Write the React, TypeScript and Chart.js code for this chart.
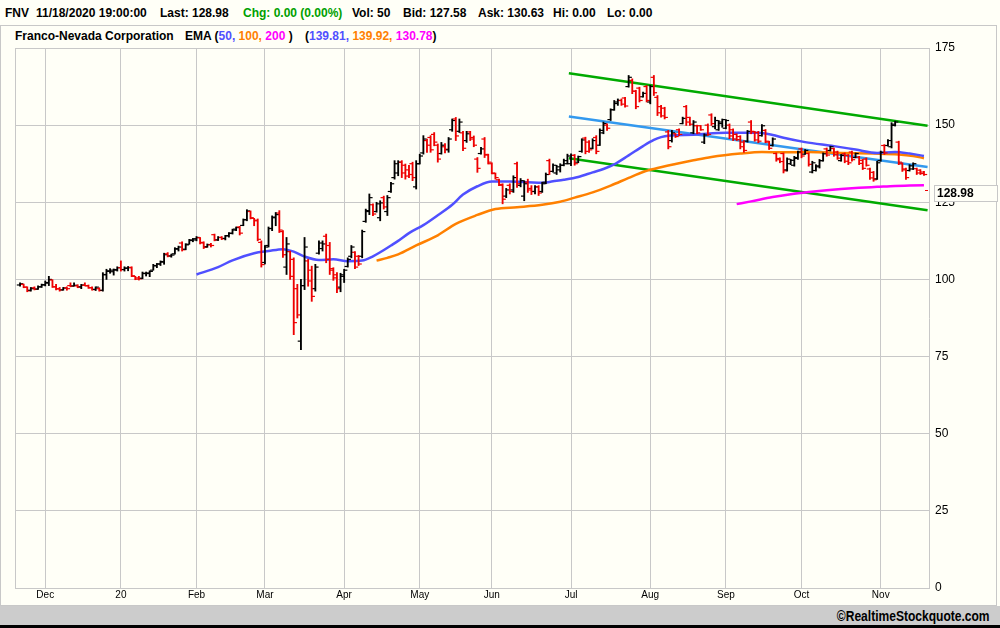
import { useEffect, useRef } from "react"
import { Chart, registerables } from "chart.js"

Chart.register(...registerables)

// daily bars, [open, high, low, close]
const nov19 = [
  [98.2, 98.9, 97.8, 98.6], [98.4, 98.5, 97.3, 97.5], [97.5, 97.6, 96.0, 96.3], [96.5, 97.4, 96.2, 97.0],
  [97.3, 97.6, 96.6, 96.8], [96.9, 97.9, 96.8, 97.6], [97.6, 98.5, 97.4, 98.3],
]
const dec19 = [
  [98.2, 99.5, 97.9, 99.0], [98.8, 101.0, 98.0, 100.0], [99.8, 99.9, 97.4, 97.6], [97.6, 98.4, 96.6, 97.0],
  [96.9, 97.4, 96.2, 96.6], [96.6, 97.4, 96.5, 97.2], [97.3, 97.6, 96.5, 97.0], [98.0, 98.9, 97.6, 97.8],
  [97.9, 98.9, 97.8, 98.1], [97.9, 98.3, 97.3, 97.5], [97.6, 98.4, 97.0, 98.2], [98.1, 98.9, 97.9, 98.0],
  [97.9, 98.2, 97.1, 97.3], [97.3, 97.6, 96.5, 96.7], [96.8, 97.6, 96.4, 97.5], [97.0, 97.3, 96.2, 96.4],
  [96.5, 102.2, 96.2, 101.5], [101.6, 103.3, 100.0, 102.8], [102.6, 103.5, 102.0, 103.0], [102.5, 103.4, 101.4, 103.2],
  [103.0, 104.1, 102.7, 103.8],
]
const jan20 = [
  [103.8, 106.0, 102.7, 103.2], [103.2, 104.1, 102.7, 103.7], [103.6, 104.2, 102.8, 103.8], [103.9, 104.1, 100.9, 101.2],
  [101.0, 101.0, 99.9, 100.1], [100.5, 101.0, 99.8, 100.2], [100.4, 102.4, 100.2, 102.0], [101.9, 102.4, 101.1, 102.1],
  [101.9, 102.8, 100.9, 102.6], [103.0, 104.9, 103.0, 104.5], [104.4, 105.2, 103.8, 105.0], [105.0, 106.0, 104.5, 105.8],
  [105.6, 108.5, 104.9, 108.0], [108.3, 108.7, 107.3, 107.6], [107.6, 108.2, 107.2, 107.9], [108.3, 110.3, 108.2, 110.0],
  [109.8, 110.8, 109.2, 110.5], [111.8, 112.2, 109.2, 109.6], [109.8, 111.6, 109.6, 111.2], [111.4, 113.0, 111.4, 112.8],
  [112.6, 113.3, 112.2, 112.8],
]
const feb20 = [
  [113.2, 113.9, 112.5, 113.6], [113.5, 113.6, 111.5, 111.8], [112.0, 112.2, 110.0, 110.4], [110.6, 111.5, 110.4, 111.3],
  [111.2, 111.7, 110.5, 111.0], [114.5, 114.7, 112.5, 112.8], [112.8, 113.9, 112.6, 113.6], [113.6, 113.9, 112.9, 113.2],
  [113.3, 114.3, 112.8, 114.1], [114.2, 115.2, 113.7, 114.9], [115.0, 116.3, 114.7, 116.0], [116.3, 117.0, 115.8, 116.8],
  [117.0, 117.2, 114.4, 115.0], [117.5, 119.6, 117.4, 119.3], [119.4, 122.6, 119.0, 122.2], [122.0, 122.2, 119.6, 120.0],
  [119.8, 119.8, 117.4, 119.2], [119.0, 119.6, 112.5, 113.0], [112.0, 112.5, 104.0, 104.8],
]
const mar20 = [
  [105.5, 111.0, 105.0, 110.5], [111.0, 117.0, 110.5, 116.5], [116.5, 120.6, 115.8, 120.0], [120.2, 121.7, 117.4, 121.0],
  [121.5, 122.3, 115.2, 116.0], [115.5, 115.8, 107.1, 108.0], [104.0, 113.6, 101.6, 111.5], [109.0, 109.2, 100.0, 101.0],
  [106.5, 107.0, 82.1, 86.0], [97.0, 98.4, 87.5, 88.5], [80.0, 100.0, 77.2, 98.0], [98.0, 113.6, 96.7, 110.5],
  [106.0, 106.5, 97.8, 99.5], [103.0, 104.3, 92.9, 94.5], [97.0, 104.9, 96.2, 104.0], [108.5, 112.5, 108.2, 111.8],
  [110.0, 112.5, 109.2, 111.5], [114.0, 114.7, 105.4, 106.5], [111.0, 112.0, 101.6, 103.0], [103.5, 103.8, 99.7, 100.5],
  [101.5, 102.2, 95.7, 97.0], [97.5, 102.0, 96.0, 101.5],
]
const apr20 = [
  [101.0, 103.3, 99.0, 103.0], [104.2, 107.0, 104.0, 106.5], [107.5, 111.0, 107.0, 110.5], [108.8, 109.0, 103.5, 104.0],
  [107.5, 107.8, 104.5, 105.0], [107.5, 116.0, 107.0, 115.5], [118.8, 122.8, 118.5, 122.3], [122.0, 127.7, 121.0, 126.5],
  [124.2, 124.5, 120.7, 121.2], [122.0, 125.0, 121.8, 124.5], [120.0, 125.5, 119.0, 124.8], [126.5, 127.0, 122.8, 123.5],
  [122.0, 127.2, 120.7, 126.5], [128.5, 131.5, 128.2, 131.0], [133.0, 138.5, 132.5, 137.5], [134.5, 138.5, 133.6, 138.0],
  [138.0, 138.5, 133.0, 134.5], [137.0, 137.4, 132.5, 133.5], [135.5, 137.0, 133.0, 134.0], [137.5, 138.0, 132.0, 133.0],
  [130.0, 138.5, 129.3, 137.5],
]
const may20 = [
  [137.5, 140.6, 137.4, 140.0], [141.0, 146.6, 140.6, 145.5], [145.0, 145.5, 141.2, 143.5], [146.0, 146.6, 141.2, 142.0],
  [147.0, 147.6, 143.3, 144.5], [143.5, 143.9, 138.0, 139.0], [140.8, 144.4, 140.6, 143.5], [143.0, 144.0, 141.0, 142.2],
  [142.0, 146.0, 141.2, 145.5], [148.5, 152.0, 148.0, 151.5], [152.0, 152.5, 145.0, 146.5], [148.0, 152.0, 147.6, 151.0],
  [147.5, 148.0, 141.7, 142.5], [145.0, 148.0, 144.4, 147.2], [147.8, 148.0, 145.0, 145.5], [146.0, 146.5, 143.0, 143.5],
  [139.0, 139.5, 134.7, 136.0], [140.8, 142.8, 140.6, 142.3], [145.5, 146.0, 139.5, 140.5], [140.3, 140.6, 137.4, 138.0],
]
const jun20 = [
  [137.5, 137.8, 134.2, 134.5], [134.3, 134.5, 132.5, 133.0], [132.3, 132.5, 130.4, 130.8], [130.5, 131.0, 124.5, 126.0],
  [127.0, 129.5, 126.5, 129.0], [130.5, 131.0, 127.7, 128.5], [129.0, 133.6, 128.2, 133.0], [137.5, 138.0, 129.8, 131.0],
  [130.5, 132.7, 130.0, 132.0], [127.0, 132.0, 125.5, 131.0], [131.5, 132.5, 128.2, 129.0], [129.5, 130.4, 127.5, 128.5],
  [128.5, 130.4, 127.7, 130.0], [130.0, 130.4, 127.2, 128.0], [128.5, 131.5, 128.2, 131.0], [131.5, 134.5, 131.0, 134.0],
  [138.5, 139.0, 134.0, 135.0], [135.0, 137.5, 134.8, 137.0], [134.5, 137.0, 134.0, 136.5], [135.5, 137.5, 134.8, 137.0],
  [137.0, 139.0, 136.8, 138.5], [137.5, 140.6, 137.4, 140.0],
]
const jul20 = [
  [137.5, 140.7, 136.9, 140.2], [140.2, 140.5, 137.0, 137.5], [138.0, 140.0, 137.8, 139.8], [141.5, 145.6, 141.2, 145.2],
  [145.8, 146.1, 140.7, 141.5], [144.5, 145.0, 141.2, 142.0], [142.5, 145.6, 142.3, 145.0], [146.0, 146.6, 140.7, 141.5],
  [143.5, 148.8, 143.4, 148.3], [147.5, 151.0, 147.2, 150.5], [150.0, 150.4, 148.3, 149.0], [151.8, 155.3, 151.5, 155.0],
  [155.0, 158.0, 154.8, 157.5], [157.0, 158.5, 156.4, 158.0], [158.0, 158.5, 156.4, 156.8], [158.8, 159.0, 155.8, 156.2],
  [162.5, 166.1, 162.3, 165.5], [164.5, 165.0, 160.2, 161.0], [161.0, 161.3, 155.3, 156.0], [162.0, 162.3, 157.5, 158.0],
  [159.2, 160.7, 159.1, 160.3], [162.5, 162.9, 157.5, 158.0],
]
const aug20 = [
  [157.5, 162.9, 156.9, 162.5], [165.5, 166.1, 159.6, 160.5], [159.0, 159.6, 153.1, 154.0], [156.0, 156.4, 152.6, 153.0],
  [155.5, 155.8, 152.0, 152.5], [147.8, 148.3, 142.3, 143.0], [145.0, 148.3, 144.5, 147.5], [147.2, 147.3, 146.0, 146.3],
  [148.5, 148.8, 146.6, 147.0], [150.5, 152.6, 150.4, 152.2], [156.0, 156.4, 149.9, 151.0], [152.5, 152.6, 149.9, 150.3],
  [147.5, 151.5, 147.2, 151.0], [149.8, 150.0, 147.2, 147.5], [149.8, 149.9, 148.3, 148.5], [144.5, 147.2, 144.0, 146.8],
  [150.0, 150.4, 146.6, 147.0], [153.3, 153.7, 149.9, 150.5], [149.5, 152.6, 148.8, 151.5], [148.5, 151.5, 148.3, 151.0],
  [150.5, 152.0, 149.3, 151.8],
]
const sep20 = [
  [149.0, 151.8, 148.8, 151.5], [150.0, 150.4, 145.6, 146.5], [148.5, 148.8, 145.0, 145.5], [147.0, 147.2, 145.0, 145.3],
  [146.3, 146.6, 142.3, 143.0], [144.5, 145.0, 141.2, 141.8], [144.8, 148.3, 144.5, 148.0], [151.0, 151.5, 147.2, 148.0],
  [147.8, 148.0, 144.8, 145.2], [147.6, 148.0, 144.3, 144.8], [146.6, 150.2, 146.4, 149.8], [148.3, 148.6, 144.3, 144.8],
  [144.5, 144.8, 142.1, 142.5], [143.4, 145.9, 143.2, 145.5], [140.8, 141.0, 138.3, 138.8], [139.2, 139.4, 137.8, 138.2],
  [140.8, 141.0, 134.5, 135.2], [135.5, 139.4, 135.1, 139.0], [137.5, 138.9, 137.2, 138.6], [137.0, 139.9, 136.7, 139.5],
  [139.2, 141.6, 138.9, 141.3],
]
const oct20 = [
  [142.3, 142.6, 139.4, 140.0], [140.6, 142.1, 140.5, 141.8], [140.8, 141.0, 136.7, 137.3], [134.8, 138.3, 134.5, 137.8],
  [135.3, 137.2, 135.1, 136.8], [136.5, 138.9, 136.1, 138.5], [138.5, 141.0, 138.3, 140.7], [142.3, 142.6, 139.9, 140.3],
  [141.8, 143.2, 141.6, 143.0], [142.4, 142.6, 139.9, 140.4], [141.3, 141.6, 138.9, 139.3], [138.5, 140.5, 138.3, 140.2],
  [140.7, 141.0, 137.8, 138.3], [140.2, 140.5, 137.2, 137.8], [141.3, 141.6, 138.3, 138.8], [139.5, 141.0, 139.4, 140.8],
  [139.6, 139.9, 137.2, 137.6], [138.6, 138.9, 135.6, 136.0], [139.0, 139.4, 136.7, 137.0], [135.8, 136.1, 132.4, 132.9],
  [134.7, 135.0, 131.8, 132.3], [132.6, 138.3, 132.4, 137.8],
]
const nov20 = [
  [138.5, 141.6, 138.3, 141.2], [143.4, 143.7, 140.5, 141.0], [143.4, 145.3, 143.2, 145.0], [143.0, 150.8, 142.6, 150.3],
  [149.9, 151.3, 149.7, 151.0], [144.5, 144.8, 137.2, 138.0], [137.5, 137.8, 135.0, 135.5], [135.8, 136.1, 132.4, 133.0],
  [135.3, 137.2, 135.1, 136.8], [135.8, 137.8, 135.6, 137.5], [135.9, 136.1, 134.0, 134.5], [135.4, 135.6, 134.0, 134.3],
  [134.8, 135.0, 133.7, 134.0],
]

const bars = [
  ...nov19, ...dec19, ...jan20, ...feb20, ...mar20, ...apr20,
  ...may20, ...jun20, ...jul20, ...aug20, ...sep20, ...oct20, ...nov20,
]

// first trading day of each month (bar index) and its label
const monthStarts = [7, 28, 49, 68, 90, 111, 131, 153, 175, 196, 217, 239]
const monthLabels = ["Dec", "20", "Feb", "Mar", "Apr", "May", "Jun", "Jul", "Aug", "Sep", "Oct", "Nov"]

// moving averages, [bar index, value]
const ema50 = [
  [49, 101.6], [55, 104.0], [59, 106.2], [65, 108.5], [69, 109.2], [73, 109.8], [76, 109.0], [79, 107.4],
  [83, 106.3], [87, 106.5], [91, 105.9], [95, 106.1], [98, 107.5], [100, 108.8], [103, 111.0], [105, 112.5],
  [108, 115.0], [112, 117.6], [116, 120.8], [120, 124.2], [123, 127.5], [127, 130.2], [131, 131.7], [136, 131.7],
  [141, 131.5], [145, 131.3], [148, 131.8], [151, 132.3], [155, 133.2], [159, 134.7], [162, 135.8], [165, 137.3],
  [169, 140.2], [173, 143.2], [176, 145.2], [178, 146.1], [180, 146.6], [187, 146.9], [196, 147.5], [205, 147.5],
  [209, 146.8], [212, 145.9], [218, 144.5], [226, 143.2], [232, 142.1], [238, 141.0], [243, 141.3], [247, 140.8],
  [251, 140.0],
]
const ema100 = [
  [99, 106.1], [102, 107.0], [105, 108.1], [110, 111.0], [116, 114.3], [121, 118.0], [127, 120.9], [132, 122.8],
  [138, 123.4], [145, 124.2], [150, 125.2], [154, 126.5], [159, 128.2], [164, 130.4], [169, 132.9], [173, 134.8],
  [176, 135.8], [182, 137.4], [187, 138.6], [192, 139.7], [200, 140.8], [206, 141.3], [212, 141.2], [219, 141.3],
  [228, 141.0], [237, 140.8], [244, 140.5], [248, 140.0], [251, 139.3],
]
const ema200 = [
  [199, 124.4], [203, 125.3], [209, 126.7], [214, 127.6], [219, 128.3], [224, 128.9], [228, 129.3], [233, 129.7],
  [238, 130.0], [243, 130.3], [247, 130.4], [251, 130.5],
]

// trend channel, [bar index, value]
const channelUpper = [[152.4, 166.8], [252, 149.8]]
const channelMid = [[152.4, 152.8], [252, 136.4]]
const channelLower = [[152.4, 139.3], [252, 122.4]]

const lastPrice = 128.98

const BG = "#fffff7"
const GRID = "#c8c8c8"
const UP = "#000000"
const DOWN = "#ee0000"
const FONT = "'Liberation Sans', Arial, sans-serif"

const pts = (arr: number[][]) => arr.map(([x, y]) => ({ x, y }))

const lastPricePlugin = {
  id: "lastPrice",
  afterDraw(chart: any) {
    const { ctx, chartArea, scales } = chart
    const py = Math.round(scales.y.getPixelForValue(lastPrice))
    ctx.save()
    ctx.strokeStyle = DOWN
    ctx.lineWidth = 1
    ctx.beginPath()
    ctx.moveTo(chartArea.right - 4, py + 0.5)
    ctx.lineTo(chartArea.right - 1, py + 0.5)
    ctx.stroke()
    const bx = Math.round(chartArea.right) + 5
    const by = py - 5
    ctx.fillStyle = BG
    ctx.fillRect(bx, by, 64, 17)
    ctx.strokeStyle = GRID
    ctx.strokeRect(bx + 0.5, by + 0.5, 63, 16)
    ctx.fillStyle = "#000"
    ctx.font = `bold 12px ${FONT}`
    ctx.textBaseline = "middle"
    ctx.fillText(lastPrice.toFixed(2), bx + 3, by + 9)
    ctx.restore()
  },
}

function PriceChart() {
  const chartRef = useRef<HTMLCanvasElement>(null)
  const chartInstance = useRef<Chart | null>(null)

  useEffect(() => {
    if (!chartRef.current) return
    if (chartInstance.current) chartInstance.current.destroy()
    const ctx = chartRef.current.getContext("2d")
    if (!ctx) return

    const colors = bars.map(([o, , , c]) => (c < o ? DOWN : UP))

    chartInstance.current = new Chart(ctx, {
      type: "bar",
      data: {
        datasets: [
          {
            type: "bar",
            data: bars.map(([, h, l], i) => ({ x: i, y: [l, h] })) as any,
            backgroundColor: colors,
            borderWidth: 0,
            barThickness: 1.2,
            order: 0,
          },
          {
            type: "line",
            data: bars.map(([o], i) => ({ x: i - 0.45, y: o })),
            showLine: false,
            pointStyle: "line",
            pointRadius: 1.6,
            pointBorderWidth: 1.2,
            pointBorderColor: colors,
            order: 0,
          },
          {
            type: "line",
            data: bars.map(([, , , c], i) => ({ x: i + 0.45, y: c })),
            showLine: false,
            pointStyle: "line",
            pointRadius: 1.6,
            pointBorderWidth: 1.2,
            pointBorderColor: colors,
            order: 0,
          },
          {
            type: "line",
            data: pts(ema50),
            borderColor: "#5050ff",
            borderWidth: 2.5,
            pointRadius: 0,
            cubicInterpolationMode: "monotone",
            order: 2,
          },
          {
            type: "line",
            data: pts(ema100),
            borderColor: "#ff8000",
            borderWidth: 2.5,
            pointRadius: 0,
            cubicInterpolationMode: "monotone",
            order: 2,
          },
          {
            type: "line",
            data: pts(ema200),
            borderColor: "#ff00ff",
            borderWidth: 2.5,
            pointRadius: 0,
            cubicInterpolationMode: "monotone",
            order: 2,
          },
          {
            type: "line",
            data: pts(channelUpper),
            borderColor: "#00aa00",
            borderWidth: 2.5,
            pointRadius: 0,
            order: 3,
          },
          {
            type: "line",
            data: pts(channelMid),
            borderColor: "#3399ee",
            borderWidth: 2.5,
            pointRadius: 0,
            order: 3,
          },
          {
            type: "line",
            data: pts(channelLower),
            borderColor: "#00aa00",
            borderWidth: 2.5,
            pointRadius: 0,
            order: 3,
          },
        ],
      },
      options: {
        responsive: false,
        animation: false,
        events: [],
        devicePixelRatio: 1,
        layout: { padding: { left: 15, top: 22, right: 0, bottom: 0 } },
        plugins: {
          legend: { display: false },
          tooltip: { enabled: false },
        },
        scales: {
          x: {
            type: "linear",
            min: -1.4,
            max: 252.4,
            offset: false,
            afterBuildTicks: (axis: any) => {
              axis.ticks = monthStarts.map((value) => ({ value }))
            },
            afterFit: (axis: any) => {
              axis.height = 17
            },
            ticks: {
              callback: (_v: any, i: number) => monthLabels[i],
              autoSkip: false,
              maxRotation: 0,
              padding: 1,
              color: "#000",
              font: { family: FONT, size: 10 },
            },
            grid: { color: GRID, drawTicks: false, offset: false },
            border: { color: GRID },
          },
          y: {
            position: "right",
            min: 0,
            max: 175,
            afterFit: (axis: any) => {
              axis.width = 71
            },
            ticks: {
              stepSize: 25,
              padding: 6,
              color: "#000",
              font: { family: FONT, size: 12 },
            },
            grid: { color: GRID, drawTicks: false },
            border: { color: GRID },
          },
        },
      },
      plugins: [lastPricePlugin],
    })

    return () => {
      if (chartInstance.current) {
        chartInstance.current.destroy()
        chartInstance.current = null
      }
    }
  }, [])

  return <canvas ref={chartRef} width={1000} height={579} style={{ position: "absolute", left: 0, top: 26 }} />
}

const headerItems: [number, string, string][] = [
  [5, "FNV", "#000"],
  [36, "11/18/2020 19:00:00", "#000"],
  [160, "Last: 128.98", "#000"],
  [243, "Chg: 0.00 (0.00%)", "#00a000"],
  [352, "Vol: 50", "#000"],
  [403, "Bid: 127.58", "#000"],
  [478, "Ask: 130.63", "#000"],
  [553, "Hi: 0.00", "#000"],
  [607, "Lo: 0.00", "#000"],
]

export default function App() {
  const text = { position: "absolute" as const, fontFamily: FONT, fontWeight: "bold" as const, fontSize: 12, lineHeight: "14px", whiteSpace: "pre" as const }
  return (
    <div style={{ position: "fixed", left: 0, top: 0, width: 1000, height: 628, background: BG, overflow: "hidden" }}>
      {headerItems.map(([x, t, c]) => (
        <div key={t} style={{ ...text, left: x, top: 6, color: c }}>{t}</div>
      ))}
      <div style={{ position: "absolute", left: 0, top: 25, width: 997, height: 581, boxSizing: "border-box", border: `1px solid ${GRID}` }} />
      <div style={{ ...text, left: 15, top: 29, color: "#000" }}>Franco-Nevada Corporation</div>
      <div style={{ ...text, left: 185, top: 29, color: "#000" }}>
        EMA (<span style={{ color: "#5050ff" }}>50,</span> <span style={{ color: "#ff8000" }}>100,</span>{" "}
        <span style={{ color: "#ff00ff" }}>200</span> )
      </div>
      <div style={{ ...text, left: 305, top: 29, color: "#000" }}>
        (<span style={{ color: "#5050ff" }}>139.81,</span> <span style={{ color: "#ff8000" }}>139.92,</span>{" "}
        <span style={{ color: "#ff00ff" }}>130.78</span>)
      </div>
      <div style={{ position: "absolute", left: 15, top: 48, width: 1, height: 540, background: GRID }} />
      <PriceChart />
      <div style={{ position: "absolute", left: 0, top: 606, width: 1000, height: 19, background: "#cccccc" }}>
        <div style={{ position: "absolute", right: 10, top: 2, fontFamily: FONT, fontWeight: "bold", fontSize: 14, lineHeight: "16px", transform: "scaleX(0.86)", transformOrigin: "right center" }}>
          ©RealtimeStockquote.com
        </div>
      </div>
      <div style={{ position: "absolute", left: 0, top: 625, width: 1000, height: 3, background: "#000" }} />
    </div>
  )
}
